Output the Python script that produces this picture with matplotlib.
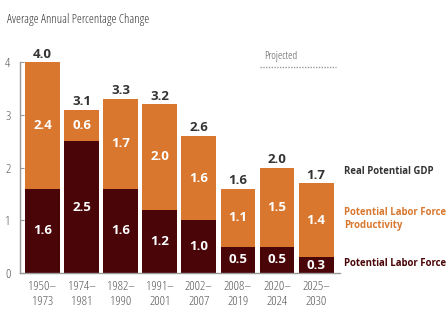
import numpy as np
import matplotlib.pyplot as plt
from matplotlib import font_manager

# pick the narrowest installed face we can find
avail = {(f.name, f.stretch) for f in font_manager.fontManager.ttflist}
choices = [('Roboto Condensed', 'normal'), ('Open Sans Condensed', 'normal'),
           ('Liberation Sans Narrow', 'normal'), ('Noto Sans', 'extra-condensed'),
           ('Noto Sans', 'condensed'), ('Open Sans', 'condensed'),
           ('DejaVu Sans', 'condensed')]
fam, stretch = 'DejaVu Sans', 'normal'
for c in choices:
    if c in avail:
        fam, stretch = c
        break
plt.rcParams['font.family'] = [fam, 'DejaVu Sans']
plt.rcParams['font.stretch'] = stretch

periods = ['1950–\n1973', '1974–\n1981', '1982–\n1990', '1991–\n2001',
           '2002–\n2007', '2008–\n2019', '2020–\n2024', '2025–\n2030']
labor_force = [1.6, 2.5, 1.6, 1.2, 1.0, 0.5, 0.5, 0.3]
productivity = [2.4, 0.6, 1.7, 2.0, 1.6, 1.1, 1.5, 1.4]
real_gdp = [4.0, 3.1, 3.3, 3.2, 2.6, 1.6, 2.0, 1.7]

maroon = '#4a0508'
orange = '#d9772f'
gray = '#555555'
dark = '#333333'

fig = plt.figure(figsize=(4.48, 3.3), dpi=100)
ax = fig.add_axes([20 / 448, 1 - 273 / 330, 320 / 448, 232 / 330])

x = np.arange(len(periods))
w = 0.89
ax.bar(x, labor_force, width=w, color=maroon)
ax.bar(x, productivity, width=w, bottom=labor_force, color=orange)

for i in range(len(x)):
    ax.text(x[i], labor_force[i] / 2, f'{labor_force[i]:.1f}', ha='center', va='center',
            color='white', fontsize=9.5, fontweight='bold')
    ax.text(x[i], labor_force[i] + productivity[i] / 2, f'{productivity[i]:.1f}', ha='center',
            va='center', color='white', fontsize=9.5, fontweight='bold')
    ax.text(x[i], real_gdp[i] + 0.03, f'{real_gdp[i]:.1f}', ha='center', va='bottom',
            color=dark, fontsize=9.5, fontweight='bold')

ax.set_xlim(-0.575, 7.61)
ax.set_ylim(0, 4.4)
ax.set_yticks([0, 1, 2, 3, 4])
ax.set_xticks(x)
ax.set_xticklabels(periods, color=gray, fontsize=9.5, linespacing=1.25)
ax.tick_params(axis='x', length=0, pad=5)
ax.tick_params(axis='y', direction='in', length=3, width=0.8, colors='#999999',
               labelcolor=gray, labelsize=9.5, pad=7)
for s in ['top', 'right']:
    ax.spines[s].set_visible(False)
ax.spines['left'].set_bounds(0, 4)
for s in ['left', 'bottom']:
    ax.spines[s].set_color('#999999')
    ax.spines[s].set_linewidth(1.0)

# projected marker
ax.text(5.66, 4.1, 'Projected', ha='left', va='center', color=gray, fontsize=8)
ax.plot([5.56, 7.5], [3.91, 3.91], color='#999999', linestyle=(0, (1, 1)), linewidth=1)

fig.text(7 / 448, 1 - 20 / 330, 'Average Annual Percentage Change', ha='left', va='center',
         color=dark, fontsize=9)
legend_texts = [
    fig.text(344 / 448, 1 - 172 / 330, 'Real Potential GDP', ha='left', va='center',
             color=dark, fontsize=9, fontweight='bold'),
    fig.text(344 / 448, 1 - 219 / 330, 'Potential Labor Force\nProductivity', ha='left',
             va='center', color=orange, fontsize=9, fontweight='bold', linespacing=1.3),
    fig.text(344 / 448, 1 - 264 / 330, 'Potential Labor Force', ha='left', va='center',
             color=maroon, fontsize=9, fontweight='bold'),
]

# shrink the right-hand labels until they fit inside the figure
r = fig.canvas.get_renderer()
size = 9
while size > 5:
    widest = max(t.get_window_extent(r).x1 for t in legend_texts)
    if widest <= 447:
        break
    size -= 0.1
    for t in legend_texts:
        t.set_fontsize(size)

fig.savefig('out.png', dpi=100)
